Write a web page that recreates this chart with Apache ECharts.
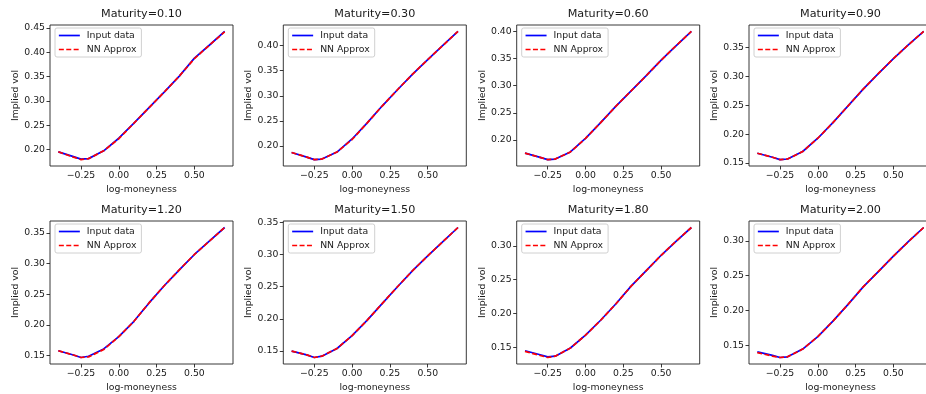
<!DOCTYPE html>
<html>
<head>
<meta charset="utf-8">
<script src="https://cdn.jsdelivr.net/npm/echarts@6/dist/echarts.min.js"></script>
<style>
  html, body { margin: 0; padding: 0; background: #fff; }
  #chart { width: 926px; height: 394px; }
</style>
</head>
<body>
<div id="chart"></div>
<script>
// log-moneyness grid shared by all maturities
const logMoneyness = [-0.4, -0.3, -0.25, -0.2, -0.1, 0, 0.1, 0.2, 0.3, 0.4, 0.5, 0.6, 0.7];
const maturities = ['0.10', '0.30', '0.60', '0.90', '1.20', '1.50', '1.80', '2.00'];

// market implied vols (input data)
const inputT010 = [0.195, 0.185, 0.180, 0.181, 0.197, 0.223, 0.254, 0.286, 0.318, 0.351, 0.388, 0.415, 0.443];
const inputT030 = [0.187, 0.178, 0.173, 0.174, 0.188, 0.214, 0.246, 0.280, 0.312, 0.343, 0.372, 0.400, 0.428];
const inputT060 = [0.176, 0.168, 0.164, 0.165, 0.178, 0.203, 0.232, 0.262, 0.290, 0.318, 0.347, 0.374, 0.400];
const inputT090 = [0.167, 0.160, 0.156, 0.157, 0.170, 0.193, 0.220, 0.249, 0.278, 0.305, 0.331, 0.355, 0.378];
const inputT120 = [0.158, 0.151, 0.147, 0.149, 0.161, 0.181, 0.206, 0.236, 0.264, 0.290, 0.315, 0.337, 0.359];
const inputT150 = [0.150, 0.144, 0.140, 0.142, 0.154, 0.174, 0.198, 0.224, 0.250, 0.275, 0.298, 0.320, 0.342];
const inputT180 = [0.145, 0.139, 0.136, 0.137, 0.149, 0.168, 0.190, 0.214, 0.240, 0.263, 0.286, 0.307, 0.327];
const inputT200 = [0.141, 0.136, 0.133, 0.134, 0.145, 0.163, 0.185, 0.209, 0.234, 0.256, 0.278, 0.299, 0.319];

// neural network approximation
const nnT010 = [0.195, 0.184, 0.179, 0.181, 0.197, 0.222, 0.254, 0.286, 0.318, 0.351, 0.387, 0.415, 0.442];
const nnT030 = [0.187, 0.178, 0.173, 0.174, 0.188, 0.213, 0.246, 0.280, 0.312, 0.343, 0.372, 0.400, 0.428];
const nnT060 = [0.176, 0.168, 0.164, 0.165, 0.178, 0.203, 0.232, 0.262, 0.290, 0.318, 0.347, 0.374, 0.400];
const nnT090 = [0.167, 0.160, 0.156, 0.157, 0.170, 0.193, 0.220, 0.249, 0.278, 0.305, 0.331, 0.355, 0.378];
const nnT120 = [0.158, 0.151, 0.147, 0.148, 0.160, 0.181, 0.206, 0.236, 0.264, 0.290, 0.315, 0.337, 0.359];
const nnT150 = [0.150, 0.144, 0.140, 0.142, 0.154, 0.174, 0.198, 0.224, 0.250, 0.275, 0.298, 0.320, 0.342];
const nnT180 = [0.144, 0.138, 0.135, 0.137, 0.149, 0.168, 0.190, 0.214, 0.240, 0.263, 0.286, 0.307, 0.327];
const nnT200 = [0.140, 0.135, 0.133, 0.134, 0.145, 0.163, 0.185, 0.209, 0.234, 0.256, 0.278, 0.299, 0.319];

const inputSets = [inputT010, inputT030, inputT060, inputT090, inputT120, inputT150, inputT180, inputT200];
const nnSets = [nnT010, nnT030, nnT060, nnT090, nnT120, nnT150, nnT180, nnT200];

// tick labels
const xTicks = [-0.25, 0, 0.25, 0.5];
const yTicks = [
  [0.20, 0.25, 0.30, 0.35, 0.40, 0.45],
  [0.20, 0.25, 0.30, 0.35, 0.40],
  [0.20, 0.25, 0.30, 0.35, 0.40],
  [0.15, 0.20, 0.25, 0.30, 0.35],
  [0.15, 0.20, 0.25, 0.30, 0.35],
  [0.15, 0.20, 0.25, 0.30, 0.35],
  [0.15, 0.20, 0.25, 0.30],
  [0.15, 0.20, 0.25, 0.30]
];

// layout
const colLeft = [50, 283.3, 516.7, 749];
const rowTop = [25, 221];
const rowHeight = [141, 143];
const panelWidth = 183;

const FONT = 'DejaVu Sans';
const TEXT = '#1a1a1a';

const fmt = v => (v < 0 ? '\u2212' : '') + Math.abs(v).toFixed(2);
const pairs = ys => logMoneyness.map((x, i) => [x, ys[i]]);

const chart = echarts.init(document.getElementById('chart'), null, { renderer: 'canvas' });

let grid = [], xAxis = [], yAxis = [], series = [], title = [], legend = [];

maturities.forEach((mat, i) => {
  const row = Math.floor(i / 4);
  const col = i % 4;
  const left = colLeft[col];
  const top = rowTop[row];

  grid.push({
    left, top, width: panelWidth, height: rowHeight[row],
    show: true, borderColor: '#222', borderWidth: 0.9,
    backgroundColor: 'transparent',
    containLabel: false, outerBoundsMode: 'none'
  });

  xAxis.push({
    type: 'value', gridIndex: i,
    min: -0.455, max: 0.755,
    axisLine: { show: false, onZero: false },
    splitLine: { show: false },
    axisTick: { show: true, length: 3.5, inside: false, customValues: xTicks, lineStyle: { color: '#222', width: 0.9 } },
    axisLabel: { customValues: xTicks, formatter: fmt, margin: 5, fontFamily: FONT, fontSize: 9.3, color: TEXT },
    name: 'log-moneyness', nameLocation: 'middle', nameGap: 19,
    nameTextStyle: { fontFamily: FONT, fontSize: 9.3, color: TEXT }
  });

  yAxis.push({
    type: 'value', gridIndex: i,
    min: v => v.min - (v.max - v.min) * 0.05,
    max: v => v.max + (v.max - v.min) * 0.05,
    axisLine: { show: false, onZero: false },
    splitLine: { show: false },
    axisTick: { show: true, length: 3.5, inside: false, customValues: yTicks[i], lineStyle: { color: '#222', width: 0.9 } },
    axisLabel: { customValues: yTicks[i], formatter: fmt, margin: 5, fontFamily: FONT, fontSize: 9.3, color: TEXT },
    name: 'Implied vol', nameLocation: 'middle', nameGap: 30,
    nameTextStyle: { fontFamily: FONT, fontSize: 9.3, color: TEXT }
  });

  series.push({
    name: 'Input data', type: 'line', xAxisIndex: i, yAxisIndex: i,
    data: pairs(inputSets[i]),
    symbol: 'none', showSymbol: false, silent: true,
    lineStyle: { color: '#0000ff', width: 1.7 },
    itemStyle: { color: '#0000ff' },
    z: 2
  });
  series.push({
    name: 'NN Approx', type: 'line', xAxisIndex: i, yAxisIndex: i,
    data: pairs(nnSets[i]),
    symbol: 'none', showSymbol: false, silent: true,
    lineStyle: { color: '#ff0000', width: 1.7, type: [5, 2.4] },
    itemStyle: { color: '#ff0000' },
    z: 3
  });

  title.push({
    text: 'Maturity=' + mat,
    left: left + panelWidth / 2, textAlign: 'center',
    top: top - 16, padding: 0,
    textStyle: { fontFamily: FONT, fontSize: 11.2, fontWeight: 'normal', color: TEXT }
  });

  legend.push({
    data: ['Input data', 'NN Approx'],
    orient: 'vertical',
    left: left + 5, top: top + 3,
    padding: [3, 5, 3, 3],
    itemWidth: 21, itemHeight: 10, itemGap: 5,
    backgroundColor: 'rgba(255,255,255,0.8)',
    borderColor: '#d0d0d0', borderWidth: 1, borderRadius: 2,
    selectedMode: false,
    itemStyle: { opacity: 0, borderWidth: 0 },
    lineStyle: { width: 1.7 },
    textStyle: { fontFamily: FONT, fontSize: 9.3, color: TEXT, padding: [0, 0, 0, 2] }
  });
});

chart.setOption({
  animation: false,
  backgroundColor: '#fff',
  title, legend, grid, xAxis, yAxis, series
});
</script>
</body>
</html>
